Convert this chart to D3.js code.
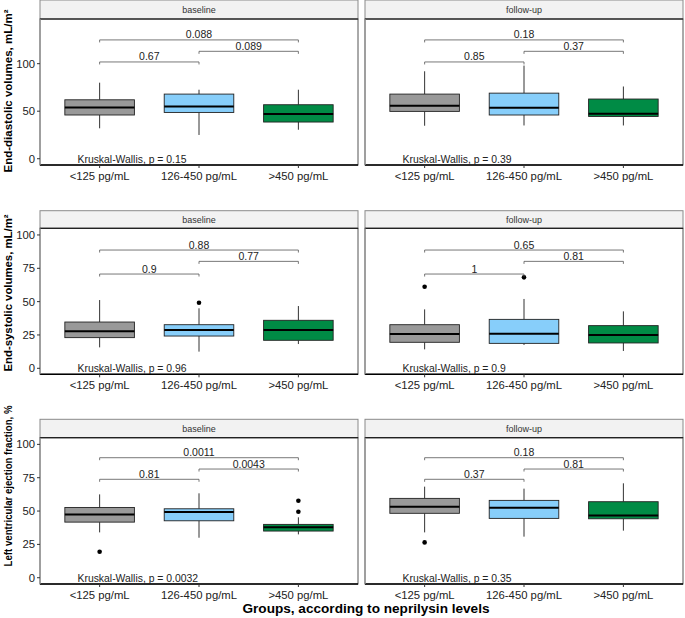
<!DOCTYPE html>
<html>
<head>
    <title>Neprilysin boxplots</title>
    <style>
        body { margin: 0; background: #fff; }
        svg text { font-family: "Liberation Sans", Arial, sans-serif; }
    </style>
</head>
<body>
    <div id="chart"></div>
    <script src="https://d3js.org/d3.v7.min.js"></script>
    <script>
        // categories and facets
        const groups = ["<125 pg/mL", "126-450 pg/mL", ">450 pg/mL"];
        const facets = ["baseline", "follow-up"];
        const colors = ["#999999", "#87CEFA", "#008B45"];

        const yTitles = ["End-diastolic volumes, mL/m\u00b2", "End-systolic volumes, mL/m\u00b2", "Left ventricular ejection fraction, %"];
        const yTicks = [[0, 50, 100], [0, 25, 50, 75, 100], [0, 25, 50, 75, 100]];

        // box stats: [lower whisker, q1, median, q3, upper whisker]
        const edvBaseline = [[32, 46, 54, 62, 80], [25, 48.7, 55, 68, 72.6], [30.5, 38.6, 47, 56.8, 72.6]];
        const edvFollow   = [[34.7, 49.8, 55.8, 68, 92], [35, 46, 53.7, 69, 98], [35, 44.5, 47.4, 62.8, 76]];
        const esvBaseline = [[15.7, 23, 27.7, 34.7, 51.2], [12.5, 24.2, 28.7, 32.7, 45], [18.2, 21, 28.7, 36, 46.7]];
        const esvFollow   = [[14.2, 19.5, 25.7, 32.7, 44.2], [17.5, 18.7, 26, 36.7, 52], [13, 19, 25, 32, 42.7]];
        const efBaseline  = [[34, 41.7, 47.5, 52.7, 62.5], [30, 42.7, 49.2, 51.7, 63.3], [32.5, 35, 37.8, 40, 45.3]];
        const efFollow    = [[34, 48.3, 53.3, 59.5, 68.3], [30.8, 44.5, 52.5, 58, 66.8], [35.3, 44.2, 46.7, 57, 70.8]];

        // outliers per group
        const esvBaselineOut = [[], [49.2], []];
        const esvFollowOut   = [[61.2], [68.2], []];
        const efBaselineOut  = [[19.5], [], [57.7, 49.5]];
        const efFollowOut    = [[26.5], [], []];

        // pairwise p-values: [1 vs 2, 2 vs 3, 1 vs 3] and bracket heights
        const edvPairs = [["0.67", "0.089", "0.088"], ["0.85", "0.37", "0.18"]];
        const esvPairs = [["0.9", "0.77", "0.88"], ["1", "0.81", "0.65"]];
        const efPairs  = [["0.81", "0.0043", "0.0011"], ["0.37", "0.81", "0.18"]];
        const edvBracketY = [101.8, 113, 125];
        const esvBracketY = [70.7, 80.2, 88.7];
        const efBracketY  = [73.8, 81.5, 90];

        const kwEdv = ["0.15", "0.39"];
        const kwEsv = ["0.96", "0.9"];
        const kwEf  = ["0.0032", "0.35"];

        const rows = [
            { stats: [edvBaseline, edvFollow], out: [[[], [], []], [[], [], []]], pairs: edvPairs, by: edvBracketY, kw: kwEdv,
              domain: [-6.6, 147], stripTop: 0, top: 19, bottom: 165, titleY: 91, titleLen: 163, titleSize: 11.8 },
            { stats: [esvBaseline, esvFollow], out: [esvBaselineOut, esvFollowOut], pairs: esvPairs, by: esvBracketY, kw: kwEsv,
              domain: [-4.5, 105], stripTop: 210.7, top: 228.3, bottom: 374.3, titleY: 293, titleLen: 157, titleSize: 11.8 },
            { stats: [efBaseline, efFollow], out: [efBaselineOut, efFollowOut], pairs: efPairs, by: efBracketY, kw: kwEf,
              domain: [-4.7, 105], stripTop: 419.3, top: 437.7, bottom: 584, titleY: 486, titleLen: 161, titleSize: 10.8 }
        ];

        const width = 685, height = 618;
        const panelX = [[40, 358], [365, 683]];

        const svg = d3.select("#chart").append("svg")
            .attr("width", width)
            .attr("height", height);

        rows.forEach((row, r) => {
            const y = d3.scaleLinear().domain(row.domain).range([row.bottom, row.top]);

            // y axis title
            svg.append("text")
                .attr("transform", "translate(12," + row.titleY + ") rotate(-90)")
                .attr("text-anchor", "middle")
                .attr("font-size", row.titleSize)
                .attr("font-weight", "bold")
                .attr("fill", "#000")
                .attr("textLength", row.titleLen)
                .attr("lengthAdjust", "spacingAndGlyphs")
                .text(yTitles[r]);

            facets.forEach((facet, f) => {
                const [x0, x1] = panelX[f];
                const x = d3.scaleBand().domain(groups).range([x0, x1]).paddingOuter(0.1).paddingInner(0);
                const cx = g => x(g) + x.bandwidth() / 2;
                const unit = x.bandwidth();
                const boxW = unit * 0.7;
                const g = svg.append("g");

                // strip
                g.append("rect")
                    .attr("x", x0).attr("y", row.stripTop)
                    .attr("width", x1 - x0).attr("height", row.top - row.stripTop)
                    .attr("fill", "#f2f2f2").attr("stroke", "#8a8a8a").attr("stroke-width", 1);
                g.append("text")
                    .attr("x", (x0 + x1) / 2).attr("y", (row.stripTop + row.top) / 2 + 3.2)
                    .attr("text-anchor", "middle").attr("font-size", 9).attr("fill", "#333")
                    .text(facet);

                // panel border
                g.append("rect")
                    .attr("x", x0).attr("y", row.top)
                    .attr("width", x1 - x0).attr("height", row.bottom - row.top)
                    .attr("fill", "none").attr("stroke", "#555").attr("stroke-width", 1);
                g.append("line")
                    .attr("x1", x0).attr("x2", x1).attr("y1", row.top).attr("y2", row.top)
                    .attr("stroke", "#222").attr("stroke-width", 1.2);
                g.append("line")
                    .attr("x1", x0).attr("x2", x1).attr("y1", row.bottom).attr("y2", row.bottom)
                    .attr("stroke", "#000").attr("stroke-width", 1.4);
                g.append("line")
                    .attr("x1", x0).attr("x2", x0).attr("y1", row.top).attr("y2", row.bottom)
                    .attr("stroke", "#999").attr("stroke-width", 1.2);

                // x axis ticks and labels
                const xAxis = g.append("g");
                groups.forEach(gr => {
                    xAxis.append("line")
                        .attr("x1", cx(gr)).attr("x2", cx(gr))
                        .attr("y1", row.bottom).attr("y2", row.bottom + 3)
                        .attr("stroke", "#333");
                    xAxis.append("text")
                        .attr("x", cx(gr)).attr("y", row.bottom + 14.5)
                        .attr("text-anchor", "middle").attr("font-size", 11.3).attr("fill", "#222")
                        .text(gr);
                });

                // y axis ticks (left panels only)
                if (f === 0) {
                    yTicks[r].forEach(t => {
                        g.append("line")
                            .attr("x1", x0 - 3).attr("x2", x0)
                            .attr("y1", y(t)).attr("y2", y(t))
                            .attr("stroke", "#333");
                        g.append("text")
                            .attr("x", x0 - 5).attr("y", y(t) + 4)
                            .attr("text-anchor", "end").attr("font-size", 11.3).attr("fill", "#222")
                            .text(t);
                    });
                }

                // boxes
                row.stats[f].forEach((s, i) => {
                    const gr = groups[i];
                    const c = cx(gr);
                    g.append("line")
                        .attr("x1", c).attr("x2", c).attr("y1", y(s[0])).attr("y2", y(s[1]))
                        .attr("stroke", "#333").attr("stroke-width", 1);
                    g.append("line")
                        .attr("x1", c).attr("x2", c).attr("y1", y(s[3])).attr("y2", y(s[4]))
                        .attr("stroke", "#333").attr("stroke-width", 1);
                    g.append("rect")
                        .attr("x", c - boxW / 2).attr("y", y(s[3]))
                        .attr("width", boxW).attr("height", y(s[1]) - y(s[3]))
                        .attr("fill", colors[i]).attr("stroke", "#222").attr("stroke-width", 0.9);
                    g.append("line")
                        .attr("x1", c - boxW / 2).attr("x2", c + boxW / 2)
                        .attr("y1", y(s[2])).attr("y2", y(s[2]))
                        .attr("stroke", "#000").attr("stroke-width", 2);
                    row.out[f][i].forEach(o => {
                        g.append("circle")
                            .attr("cx", c).attr("cy", y(o)).attr("r", 2.3)
                            .attr("fill", "#000");
                    });
                });

                // comparison brackets
                const pairIdx = [[0, 1], [1, 2], [0, 2]];
                pairIdx.forEach((p, k) => {
                    const a = cx(groups[p[0]]), b = cx(groups[p[1]]);
                    const by = y(row.by[k]);
                    g.append("path")
                        .attr("d", `M${a},${by + 2.5}V${by}H${b}V${by + 2.5}`)
                        .attr("fill", "none").attr("stroke", "#555").attr("stroke-width", 0.8);
                    g.append("text")
                        .attr("x", (a + b) / 2).attr("y", by - 1.5)
                        .attr("text-anchor", "middle").attr("font-size", 10.5).attr("fill", "#222")
                        .text(row.pairs[f][k]);
                });

                // Kruskal-Wallis label
                g.append("text")
                    .attr("x", x0 + 37.5).attr("y", y(0) + 4)
                    .attr("font-size", 10.4).attr("fill", "#222")
                    .text("Kruskal-Wallis, p = " + row.kw[f]);
            });
        });

        // x axis title
        svg.append("text")
            .attr("x", 366).attr("y", 613)
            .attr("text-anchor", "middle")
            .attr("font-size", 13.6)
            .attr("font-weight", "bold")
            .attr("fill", "#000")
            .text("Groups, according to neprilysin levels");
    </script>
</body>
</html>
